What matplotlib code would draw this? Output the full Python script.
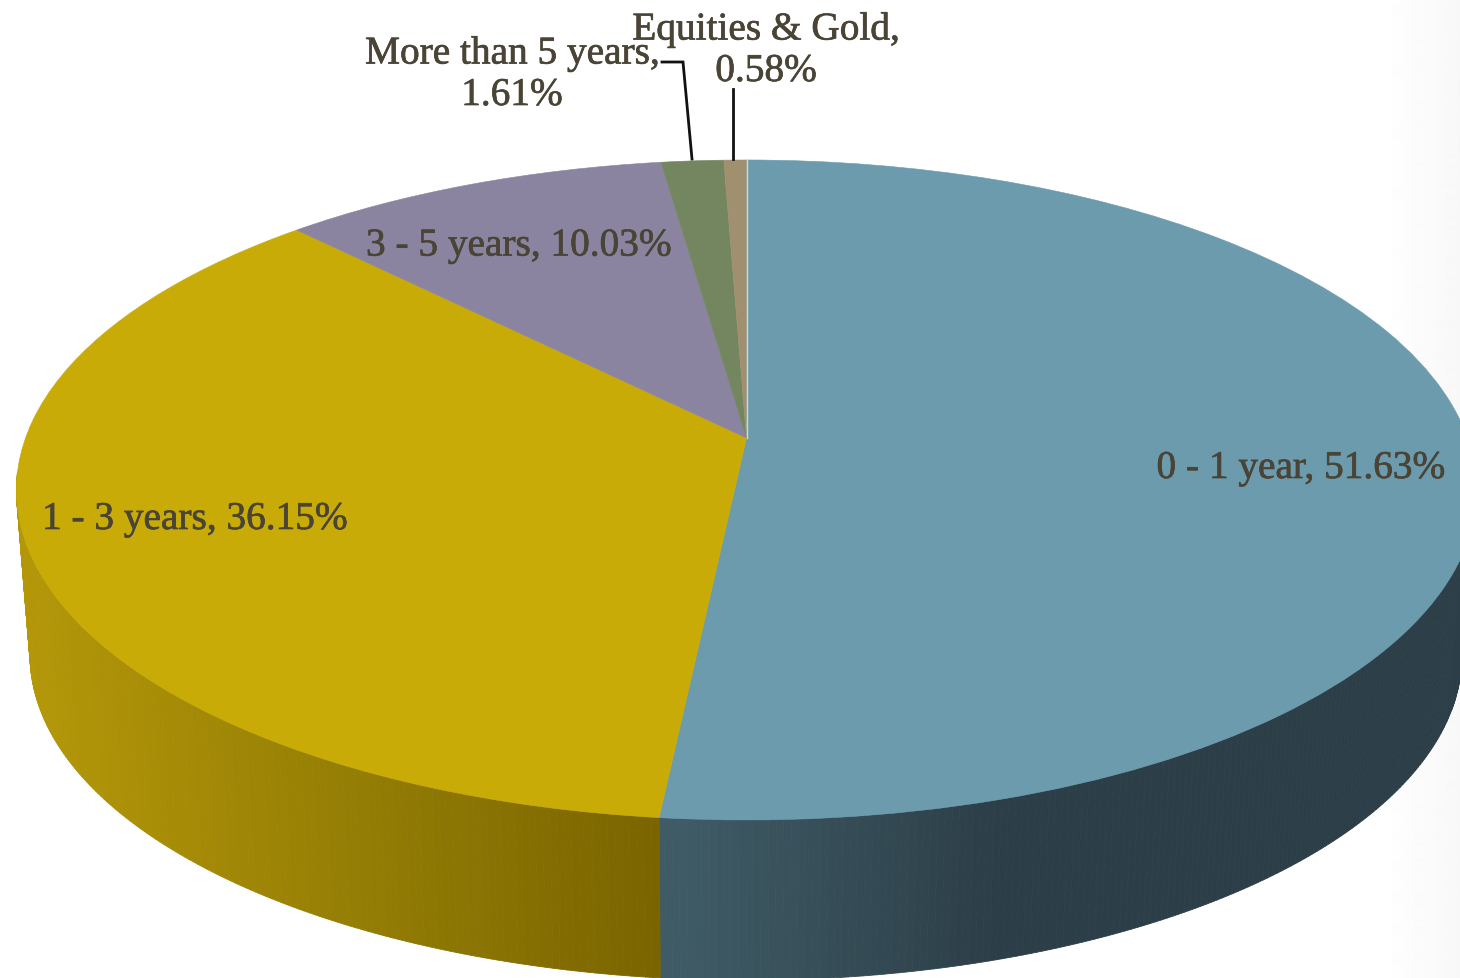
import numpy as np
import matplotlib
matplotlib.use("Agg")
import matplotlib.pyplot as plt
import matplotlib.patheffects as pe
from matplotlib.collections import PolyCollection
from matplotlib.transforms import Transform

categories = ["0 - 1 year", "1 - 3 years", "3 - 5 years", "More than 5 years", "Equities & Gold"]
shares = [51.63, 36.15, 10.03, 1.61, 0.58]
top_colors = ["#6b9bad", "#c9ab07", "#8a84a0", "#73865f", "#a0906f"]
# side wall shade stops: pixel x, colour
wall_x = [0, 680, 1000, 1460]
wall_blue = [(0x3f, 0x5b, 0x66), (0x3f, 0x5b, 0x66), (0x2c, 0x3e, 0x47), (0x2c, 0x3e, 0x47)]
wall_x_yellow = [20, 200, 400, 660]
wall_yellow = [(0xb4, 0x97, 0x08), (0xa3, 0x89, 0x06), (0x90, 0x7a, 0x04), (0x7a, 0x64, 0x00)]
TXT = "#4a4436"


class Tilt(Transform):
    """Perspective view of the unit-circle pie, output in picture pixels."""
    input_dims = output_dims = 2
    is_affine = False
    has_inverse = False

    def __init__(self, x0, y0, kx, ky, b=0.1575):
        super().__init__()
        self.x0, self.y0, self.kx, self.ky, self.b = x0, y0, kx, ky, b

    def transform_non_affine(self, values):
        values = np.asarray(values, float)
        d = 1 + self.b * values[:, 1]
        return np.column_stack([self.x0 + self.kx * values[:, 0] / d,
                                self.y0 - self.ky * values[:, 1] / d])


top = Tilt(746.5, 439, 721, 321.8)
bottom = Tilt(746, 605, 707, 317)

fig = plt.figure(figsize=(14.6, 9.79), dpi=100, facecolor="white")
ax = fig.add_axes([0, 0, 1, 1])

wedges, _ = ax.pie(shares, colors=top_colors, startangle=90, counterclock=False,
                   wedgeprops=dict(linewidth=0.4), radius=1)
for w, c in zip(wedges, top_colors):
    w.set_transform(top + ax.transData)
    w.set_edgecolor(c)
    w.set_zorder(3)

# faint shading at the right side of the slide background
shade = np.linspace(1.0, 0.972, 80)[None, :]
ax.imshow(shade, extent=(1380, 1460, 979, 0), cmap="gray", vmin=0, vmax=1,
          aspect="auto", zorder=0, interpolation="bilinear")

# extruded side wall, slice by slice (front part only)
edges = np.cumsum([0] + shares) / sum(shares) * 360
for i, s in enumerate(shares[:2]):
    lo, hi = max(edges[i], 96.0), min(edges[i + 1], 264.0)
    ang = np.radians(np.append(np.arange(lo, hi, 0.5), hi))
    uv = np.column_stack([np.sin(ang), np.cos(ang)])
    a, b = top.transform_non_affine(uv), bottom.transform_non_affine(uv)
    quads, cols = [], []
    for j in range(len(ang) - 1):
        quads.append([a[j], a[j + 1], b[j + 1], b[j]])
        xm = (a[j, 0] + a[j + 1, 0]) / 2
        sx, sc = (wall_x, wall_blue) if i == 0 else (wall_x_yellow, wall_yellow)
        cols.append([np.interp(xm, sx, [q[k] for q in sc]) / 255 for k in range(3)])
    ax.add_collection(PolyCollection(quads, facecolors=cols, edgecolors=cols,
                                     linewidths=0.6, zorder=2))

ax.plot([0, 0], [0, 1], color="#c4dbe3", lw=1.0, transform=top + ax.transData, zorder=4)

# leader lines
ax.plot([662, 683, 692], [63, 63, 160], color="#111111", lw=2.0, zorder=5, solid_joinstyle="miter")
ax.plot([733, 733], [90, 160], color="#111111", lw=2.0, zorder=5)

fp = dict(family="Liberation Serif", size=28.3, color=TXT, zorder=6,
          path_effects=[pe.withStroke(linewidth=0.5, foreground=TXT)])
ax.text(1445, 479, f"{categories[0]}, {shares[0]:.2f}%", ha="right", va="baseline", **fp)
ax.text(42, 530, f"{categories[1]}, {shares[1]:.2f}%", ha="left", va="baseline", **fp)
ax.text(366, 256.5, f"{categories[2]}, {shares[2]:.2f}%", ha="left", va="baseline", **fp)
ax.text(512, 106, f"{categories[3]},\n{shares[3]:.2f}%", ha="center", va="baseline",
        multialignment="center", linespacing=1.16, **fp)
ax.text(766, 82, f"{categories[4]},\n{shares[4]:.2f}%", ha="center", va="baseline",
        multialignment="center", linespacing=1.16, **fp)

ax.set_aspect("auto")
ax.set_xlim(0, 1460)
ax.set_ylim(979, 0)
ax.axis("off")
fig.savefig("out.png", dpi=100)
